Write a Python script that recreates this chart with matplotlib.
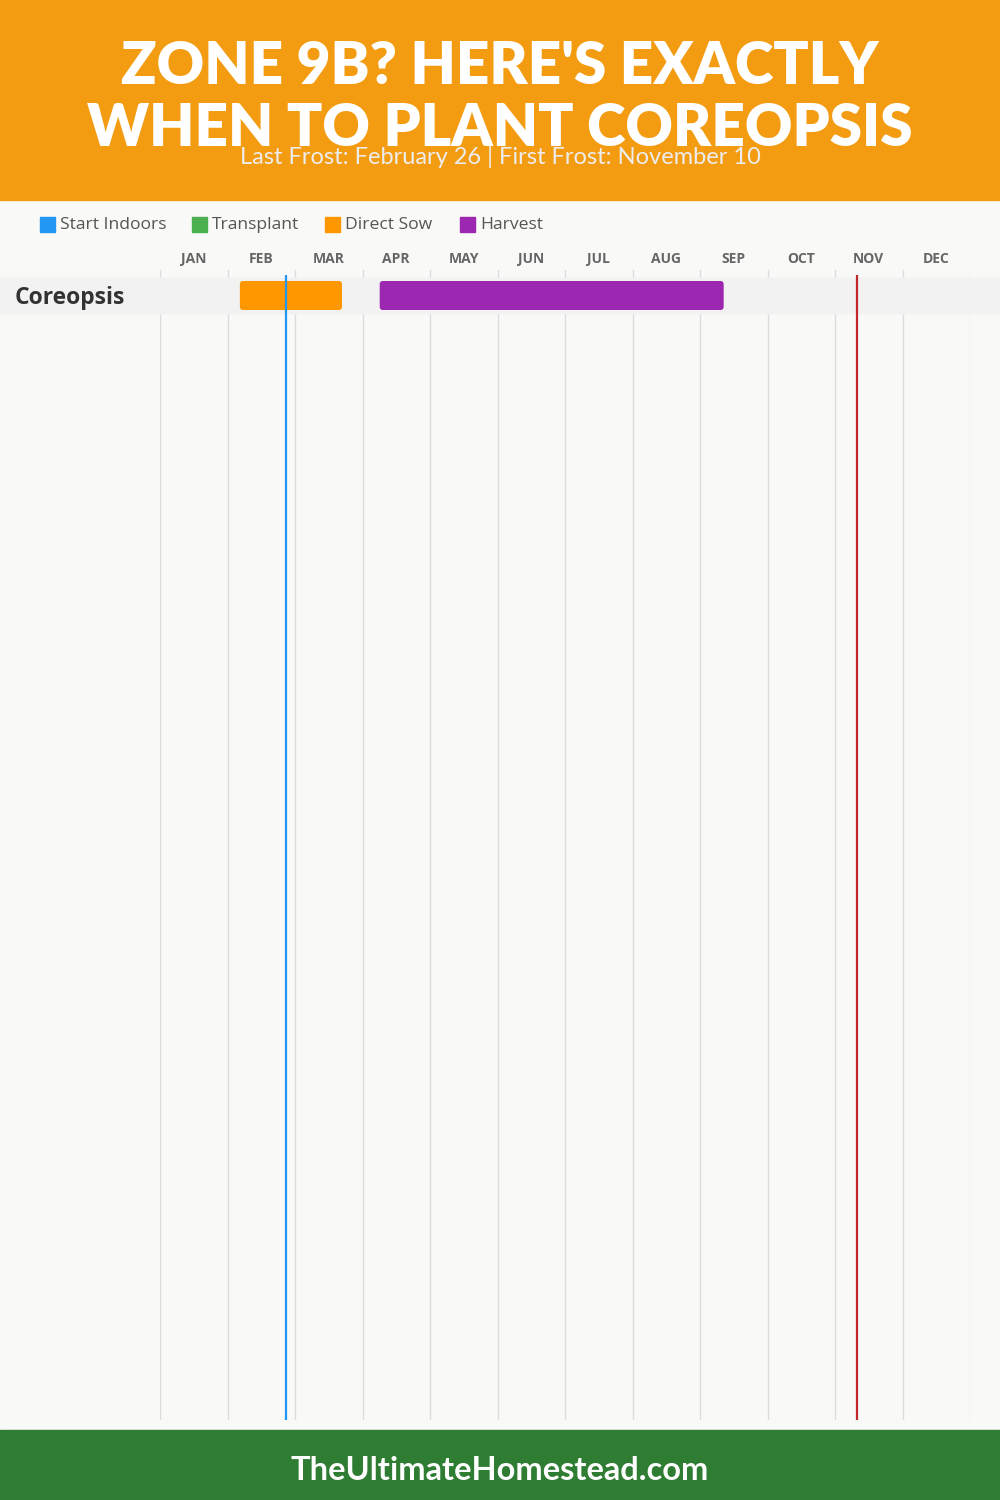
# coreopsis planting calendar, zone 9b
import datetime as dt
import matplotlib
matplotlib.use("Agg")
import matplotlib.pyplot as plt
from matplotlib.patches import Rectangle, FancyBboxPatch
import matplotlib.transforms as mtransforms

months = ["JAN", "FEB", "MAR", "APR", "MAY", "JUN",
          "JUL", "AUG", "SEP", "OCT", "NOV", "DEC"]
plants = ["Coreopsis"]
legend_names = ["Start Indoors", "Transplant", "Direct Sow", "Harvest"]
legend_colors = ["#2196F3", "#4CAF50", "#FF9800", "#9C27B0"]

# (plant, activity, start, end)
schedule = [
    ("Coreopsis", "Direct Sow", "02-05", "03-23"),
    ("Coreopsis", "Harvest", "04-09", "09-11"),
]
last_frost = "02-26"
first_frost = "11-10"


def to_month(mmdd):
    # day of year mapped onto a 12-month axis
    d = dt.date(2023, int(mmdd[:2]), int(mmdd[3:]))
    return d.timetuple().tm_yday / 365 * 12


W, H = 1000, 1500
fig = plt.figure(figsize=(W / 100, H / 100), dpi=100)
fig.patch.set_facecolor("#F9F9F7")

# header + footer bands
fig.patches.append(Rectangle((0, 1 - 200 / H), 1, 200 / H, transform=fig.transFigure,
                             color="#F39C12", zorder=0))
fig.patches.append(Rectangle((0, 0), 1, 70 / H, transform=fig.transFigure,
                             color="#2E7D32", zorder=0))

fig.text(0.5, 1 - 66 / H, "ZONE 9B? HERE'S EXACTLY", ha="center", va="center",
         color="white", fontsize=42, fontweight="heavy", family="Lato")
fig.text(0.5, 1 - 128 / H, "WHEN TO PLANT COREOPSIS", ha="center", va="center",
         color="white", fontsize=42, fontweight="heavy", family="Lato")
fig.text(0.5, 1 - 157 / H, "Last Frost: February 26 | First Frost: November 10",
         ha="center", va="center", color="#EDEDED", fontsize=17, family="Lato")
fig.text(0.5, 1 - 1471 / H, "TheUltimateHomestead.com", ha="center", va="center",
         color="white", fontsize=23.5, fontweight="bold", family="Lato")

# legend
leg_x = [40, 192, 325, 460]
for x, name, c in zip(leg_x, legend_names, legend_colors):
    fig.patches.append(Rectangle((x / W, 1 - 232 / H), 15 / W, 15 / H,
                                 transform=fig.transFigure, color=c))
    fig.text((x + 20) / W, 1 - 225 / H, name, ha="left", va="center",
             color="#555555", fontsize=12.6, family="Open Sans")

# chart axes: x in months, y in rows (35 px each)
top_px, bot_px = 270, 1420
ax = fig.add_axes([160 / W, 1 - bot_px / H, 810 / W, (bot_px - top_px) / H])
ax.set_facecolor("none")
row_px = 35
y_top = -0.5 - 8 / row_px
ax.set_ylim(y_top + (bot_px - top_px) / row_px, y_top)
ax.set_xlim(0, 12)
ax.axis("off")

for m in range(13):
    ax.axvline(m, color="#DDDDDD", lw=1, zorder=1)

for i, m in enumerate(months):
    ax.text(i + 0.5, y_top - 11 / row_px, m, ha="center", va="center",
            color="#666666", fontsize=10, fontweight="bold", family="Open Sans")

blend = mtransforms.blended_transform_factory(fig.transFigure, ax.transData)
for r, p in enumerate(plants):
    band = Rectangle((0, r - 0.5), 1, 1, transform=blend, color="#F2F2F2",
                     zorder=2, clip_on=False)
    ax.add_artist(band)
    ax.text(15 / W, r + 2 / row_px, p, transform=blend, ha="left", va="center",
            color="#333333", fontsize=16.5, fontweight="bold", family="Open Sans")

# bars with small rounded corners (3 px)
px_x = 12 / 810
bar_h = 29 / row_px
for plant, act, s, e in schedule:
    r = plants.index(plant)
    c = legend_colors[legend_names.index(act)]
    x0, x1 = to_month(s), to_month(e)
    bar = FancyBboxPatch((x0, r - bar_h / 2), x1 - x0, bar_h,
                         boxstyle="round,pad=0,rounding_size=%f" % (3 * px_x),
                         mutation_aspect=(1 / row_px) / px_x,
                         facecolor=c, edgecolor="none", zorder=3)
    ax.add_patch(bar)

line_top = y_top + 5 / row_px
ax.vlines(to_month(last_frost), line_top, ax.get_ylim()[0], color="#2196F3", lw=1.6, zorder=4)
ax.vlines(to_month(first_frost), line_top, ax.get_ylim()[0], color="#C0282B", lw=1.6, zorder=4)

fig.savefig("out.png", dpi=100, facecolor=fig.get_facecolor())
